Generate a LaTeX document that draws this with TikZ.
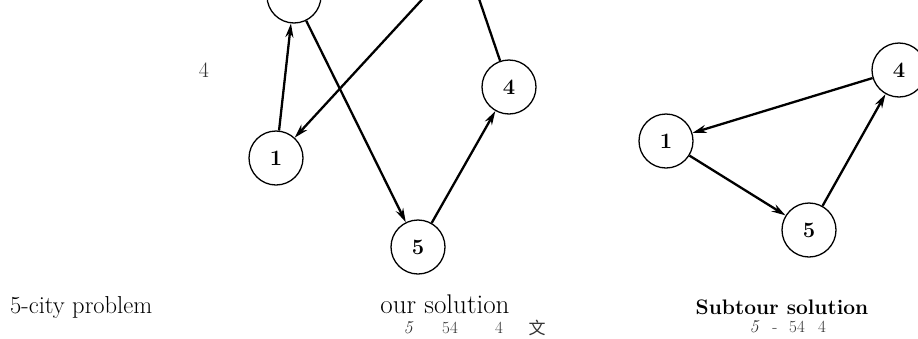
\documentclass[tikz,border=0pt]{standalone}
\usepackage{fontspec}
\newfontfamily\cjk{Noto Sans CJK SC}
\usetikzlibrary{arrows.meta}

\tikzset{
  city/.style={circle, draw, line width=1.3pt, minimum size=54pt, inner sep=0pt,
    font=\fontsize{22}{22}\selectfont\bfseries},
  tour/.style={line width=2.3pt},
  caption/.style={anchor=base, inner sep=0pt},
  small/.style={anchor=base, font=\fontsize{17}{18}\selectfont, inner sep=0pt, text=black!80}
}

\begin{document}
\begin{tikzpicture}[x=1pt, y=-1pt, >={Stealth[length=14pt,width=8pt]}]

  % Frame
  \path[use as bounding box, clip] (0,0) rectangle (918,338);

  % Our solution
  \node[city] (m2) at (294,-4) {};
  \node[city] (m1) at (276,158) {1};
  \node[city] (m5) at (418,247) {5};
  \node[city] (m4) at (509,87) {4};
  \coordinate (m3) at (440,-20);
  \coordinate (mtop) at (476,-10);

  \draw[tour, ->] (m1) -- (m2);
  \draw[tour, ->] (m2) -- (m5);
  \draw[tour, ->] (m3) -- (m1);
  \draw[tour, ->] (m5) -- (m4);
  \draw[tour] (m4) -- (mtop);

  % Subtour solution
  \node[city] (r1) at (666,141) {1};
  \node[city] (r5) at (809,230) {5};
  \node[city] (r4) at (899,70) {4};

  \draw[tour, ->] (r4) -- (r1);
  \draw[tour, ->] (r1) -- (r5);
  \draw[tour, ->] (r5) -- (r4);

  % Labels
  \node[small, font=\fontsize{22}{22}\selectfont] (lfour) at (204,77) {4};
  \node[caption, anchor=base west, font=\fontsize{24.5}{26}\selectfont] (lprob) at (10,313) {5-city problem};
  \node[caption, font=\fontsize{27}{28}\selectfont] (lour) at (445,313) {our solution};
  \node[caption, font=\fontsize{21}{22}\selectfont\bfseries] (lsub) at (782,314) {Subtour solution};

  \node[small, font=\fontsize{18}{18}\selectfont\itshape] (oa) at (408,333) {5};
  \node[small] (ob) at (450,333) {54};
  \node[small] (oc) at (499,333) {4};
  \node[small, font=\fontsize{17}{17}\selectfont\cjk] (od) at (537,334) {文};

  \node[small, font=\fontsize{18}{18}\selectfont\itshape] (sa) at (754,332) {5};
  \node[small] (sb) at (775,332) {-};
  \node[small] (sc) at (797,332) {54};
  \node[small] (sd) at (822,332) {4};

\end{tikzpicture}
\end{document}
